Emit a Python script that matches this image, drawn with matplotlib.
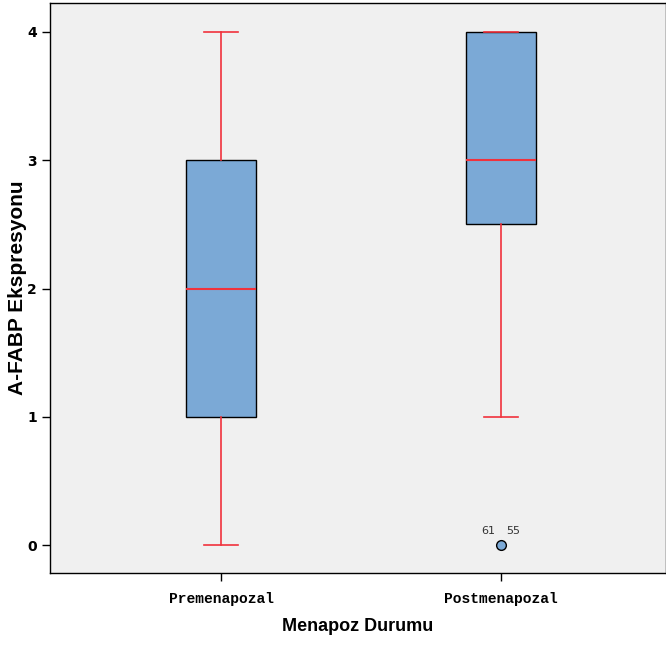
import matplotlib
matplotlib.use("Agg")
import matplotlib.pyplot as plt

groups = ["Premenapozal", "Postmenapozal"]
whislo = [0, 1]
q1 = [1, 2.5]
med = [2, 3]
q3 = [3, 4]
whishi = [4, 4]
fliers = [[], [0]]
flier_ids = [[], ["61", "55"]]

box_col = "#7BA9D6"
red = "#F0323C"

stats = []
for i in range(len(groups)):
    stats.append(dict(label=groups[i], whislo=whislo[i], q1=q1[i], med=med[i],
                      q3=q3[i], whishi=whishi[i], fliers=fliers[i]))

fig = plt.figure(figsize=(6.66, 6.48), dpi=100)
ax = fig.add_axes([0.075, 0.1157, 0.925, 0.8797])
ax.set_facecolor("#F0F0F0")

ax.bxp(stats, positions=[1, 2], widths=0.25, patch_artist=True, capwidths=0.12,
       boxprops=dict(facecolor=box_col, edgecolor="black", linewidth=1),
       medianprops=dict(color=red, linewidth=1.5),
       whiskerprops=dict(color=red, linewidth=1.2),
       capprops=dict(color=red, linewidth=1.2),
       flierprops=dict(marker="o", markerfacecolor=box_col, markeredgecolor="black",
                       markersize=7, markeredgewidth=1))

# case numbers next to the outlier
for i, ids in enumerate(flier_ids):
    if ids:
        y = fliers[i][0]
        ax.annotate(ids[0], (i + 1, y), xytext=(-9.5, 10), textcoords="offset points",
                    ha="center", va="center", fontsize=8, color="#333333")
        ax.annotate(ids[1], (i + 1, y), xytext=(8.5, 10), textcoords="offset points",
                    ha="center", va="center", fontsize=8, color="#333333")

ax.set_xlim(0.389, 2.589)
ax.set_ylim(-0.218, 4.226)
ax.set_yticks([0, 1, 2, 3, 4])
ax.set_xticks([1, 2])
ax.set_xticklabels(groups, family="Liberation Mono", fontweight="bold", fontsize=10.5)
for lab in ax.get_yticklabels():
    lab.set_fontweight("bold")
    lab.set_fontsize(10)
ax.tick_params(axis="both", direction="out", length=6, width=1, color="black")
ax.tick_params(axis="x", pad=8)

ax.set_xlabel("Menapoz Durumu", family="Liberation Sans", fontweight="bold", fontsize=13, labelpad=8)
ax.set_ylabel("A-FABP Ekspresyonu", family="Liberation Sans", fontweight="bold", fontsize=15)
ax.yaxis.set_label_coords(-0.037, 0.5)

for s in ax.spines.values():
    s.set_linewidth(1)

fig.savefig("out.png", dpi=100)
